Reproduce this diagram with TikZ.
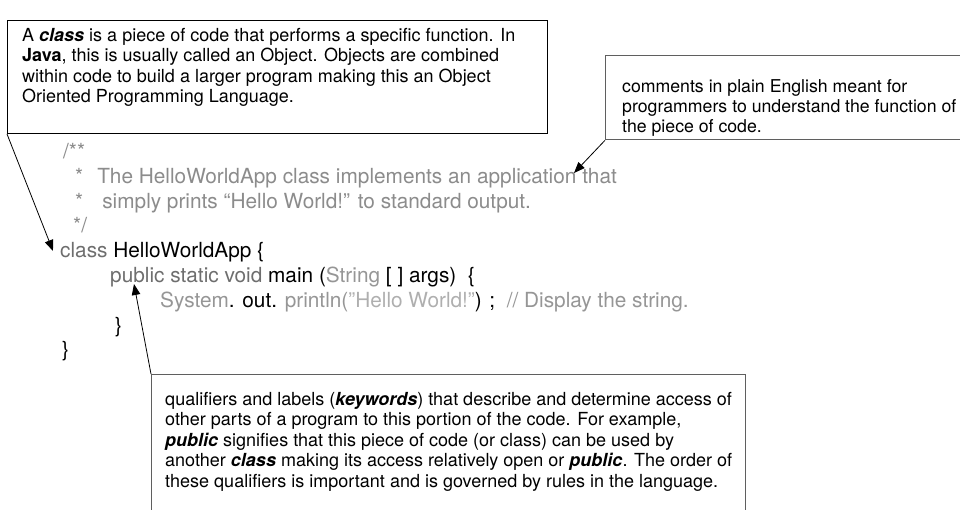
\documentclass[tikz,border=0pt]{standalone}
\usepackage{fontspec}
\setmainfont{TeX Gyre Heros}
\usetikzlibrary{arrows.meta}

\definecolor{kwgray}{RGB}{110,110,110}
\definecolor{cmgray}{RGB}{140,140,140}
\definecolor{idgray}{RGB}{150,150,150}
\definecolor{strgray}{RGB}{175,175,175}
\definecolor{framegray}{RGB}{95,95,95}

\tikzset{
  notebox/.style={draw, line width=1pt, inner sep=0pt, anchor=north west},
  notetext/.style={inner sep=0pt, anchor=north west, align=left,
    font=\fontsize{18}{20.5}\selectfont},
  codeline/.style={inner sep=0pt, anchor=base west,
    font=\fontsize{20.8}{24}\selectfont},
  pointer/.style={draw=black, line width=0.8pt,
    -{Triangle[length=11pt,width=8.5pt]}},
}

\newcommand{\bi}[1]{\textbf{\textit{#1}}}

\begin{document}
\begin{tikzpicture}[x=1pt,y=-1pt]
\useasboundingbox (0,0) rectangle (960,510);
\clip (0,0) rectangle (960,510);
\fill[white] (0,0) rectangle (960,510);

% ---- explanatory boxes ----
\node[notebox, draw=black, minimum width=540pt, minimum height=113pt] (b1) at (7,20) {};
\node[notetext] (t1) at (22,28) {A \bi{class} is a piece of code that performs a specific function. In\\
\textbf{Java}, this is usually called an Object. Objects are combined\\
within code to build a larger program making this an Object\\
Oriented Programming Language.};

\node[notebox, draw=framegray, line width=1.3pt, minimum width=380pt, minimum height=84pt] (b2) at (605,55) {};
\node[notetext, font=\fontsize{17.7}{20}\selectfont] (t2) at (622,79) {comments in plain English meant for\\
programmers to understand the function of\\
the piece of code.};

\node[notebox, draw=framegray, line width=1.3pt, minimum width=594pt, minimum height=160pt] (b3) at (151,374) {};
\node[notetext] (t3) at (165,392) {qualifiers and labels (\bi{keywords}) that describe and determine access of\\
other parts of a program to this portion of the code. For example,\\
\bi{public} signifies that this piece of code (or class) can be used by\\
another \bi{class} making its access relatively open or \bi{public}. The order of\\
these qualifiers is important and is governed by rules in the language.};

% ---- program listing ----
\node[codeline, text=cmgray] (c0) at (63,159) {/**};
\node[codeline, text=cmgray] (c1) at (75,184) {*\hspace{14pt}The HelloWorldApp class implements an application that};
\node[codeline, text=cmgray] (c2) at (75,208.5) {*\hspace{19pt}simply prints “Hello World!” to standard output.};
\node[codeline, text=cmgray] (c3) at (73,233) {*/};
\node[codeline] (c4) at (60,258) {\textcolor{kwgray}{class} HelloWorldApp \{};
\node[codeline] (c5) at (110,282.5) {\textcolor{kwgray}{public static void} main (\textcolor{idgray}{String} [ ] args)\ \ \{};
\node[codeline] (c6) at (160,307) {\textcolor{idgray}{System}. out. \textcolor{idgray}{println(}\textcolor{strgray}{”Hello World!”}) ;\ \ \textcolor{idgray}{// Display the string.}};
\node[codeline] (c7) at (115,332) {\}};
\node[codeline] (c8) at (62,356.5) {\}};

% ---- pointers from the notes to the code ----
\coordinate (pa) at (53,251);
\coordinate (pb) at (574,173);
\coordinate (pc) at (134,284);
\draw[pointer] (b1.south west) -- (pa);
\draw[pointer] (b2.south west) -- (pb);
\draw[pointer] (b3.north west) -- (pc);
\end{tikzpicture}
\end{document}
